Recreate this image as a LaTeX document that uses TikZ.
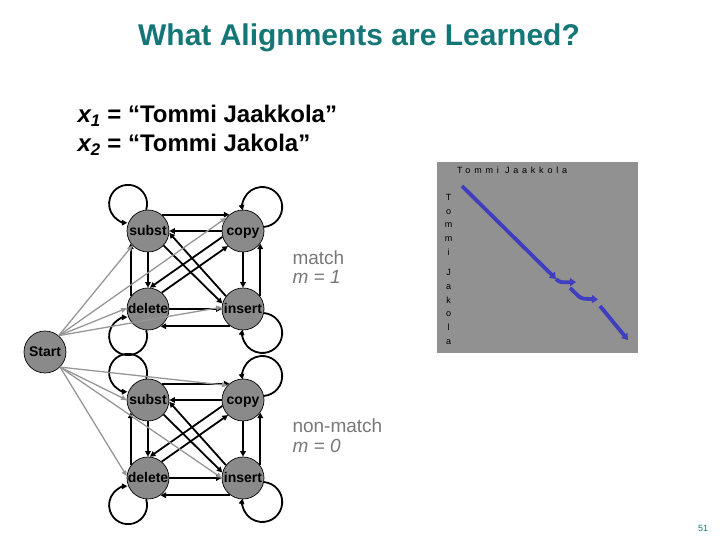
\documentclass[tikz,border=0pt]{standalone}
\usepackage{fontspec}
\setmainfont{Liberation Sans}
\usetikzlibrary{arrows.meta}
\definecolor{teal0}{RGB}{20,118,118}
\definecolor{nodegray}{RGB}{138,138,138}
\definecolor{boxgray}{RGB}{145,145,145}
\definecolor{edgegray}{RGB}{150,150,150}
\definecolor{txtgray}{RGB}{120,120,120}
\definecolor{alignblue}{RGB}{62,62,190}
\begin{document}
\begin{tikzpicture}[x=1pt,y=1pt,
  state/.style={circle, draw=black, line width=0.7pt, fill=nodegray, minimum size=42pt, inner sep=0pt, text height=10pt, text depth=0pt, font=\fontsize{14}{15}\selectfont\bfseries},
  tr/.style={line width=1.8pt, -{Triangle[length=5.5pt,width=5.5pt]}},
  st/.style={draw=edgegray, line width=1.3pt, -{Triangle[length=5.5pt,width=5pt]}},
  al/.style={draw=alignblue, line width=3.8pt, -{Triangle[length=6pt,width=8pt]}},
  lbl/.style={anchor=base west, text=txtgray, font=\fontsize{19}{22}\selectfont},
]
\useasboundingbox (0,0) rectangle (720,540);

% title and text
\node[font=\fontsize{30}{36}\selectfont\bfseries, text=teal0] (title) at (359,502) {What Alignments are Learned?};
\node[anchor=base west, font=\fontsize{24}{28}\selectfont\bfseries] (x1) at (74,417) {\itshape x\textsubscript{1}\upshape{} = “Tommi Jaakkola”};
\node[anchor=base west, font=\fontsize{24}{28}\selectfont\bfseries] (x2) at (74,388) {\itshape x\textsubscript{2}\upshape{} = “Tommi Jakola”};
\node[lbl] (m1a) at (289,275) {match};
\node[lbl] (m1b) at (289,256) {\itshape m = 1};
\node[lbl] (m0a) at (289,107) {non-match};
\node[lbl] (m0b) at (289,87) {\itshape m = 0};
\node[text=teal0, font=\fontsize{9}{10}\selectfont] (pg) at (703,12) {51};

% alignment matrix
\fill[boxgray] (437,187) rectangle (638,378);
\node[anchor=base west, inner sep=0pt, font=\fontsize{9}{10}\selectfont\addfontfeature{LetterSpace=42}] (toph) at (457,366) {Tommi Jaakkola};
\node[anchor=north, inner sep=0pt, align=center, font=\fontsize{9}{13.7}\selectfont] (leftv) at (448.5,346) {T\\o\\m\\m\\i\\[7pt]J\\a\\k\\o\\l\\a};
\draw[al] (462,354) -- (556,261);
\draw[al] (556,261) .. controls (560,257.5) .. (576,258);
\draw[al, rounded corners=3pt] (570,252) -- (581,241.5) -- (598,240.5);
\draw[al] (600,234) -- (628,200);

% start node
\node[state] (Start) at (45,188) {Start};

\foreach \p/\yo in {t/0, b/-169} {
  \node[state] (\p S) at (148,{309+\yo}) {subst};
  \node[state] (\p C) at (243,{309+\yo}) {copy};
  \node[state] (\p D) at (148,{231+\yo}) {delete};
  \node[state] (\p I) at (243,{231+\yo}) {insert};
  % self loops
  \draw[tr] (\p S.95) arc[start angle=-18, end angle=268, radius=19pt];
  \draw[tr] (\p C.11) arc[start angle=-85, end angle=190, radius=20pt];
  \draw[tr] (\p D.265) arc[start angle=18, end angle=-268, radius=19pt];
  \draw[tr] (\p I.-11) arc[start angle=85, end angle=-190, radius=20pt];
  % transitions
  \draw[tr] (\p S.50) -- (\p C.130);
  \draw[tr] (\p C.180) -- (\p S.0);
  \draw[tr] (\p S.270) -- (\p D.90);
  \draw[tr] (\p D.144) -- (\p S.216);
  \draw[tr] (\p C.270) -- (\p I.90);
  \draw[tr] (\p I.36) -- (\p C.324);
  \draw[tr] (\p D.0) -- (\p I.180);
  \draw[tr] (\p I.234) -- (\p D.306);
  \draw[tr] (\p S.317) -- (\p I.165);
  \draw[tr] (\p I.143) -- (\p S.355);
  \draw[tr] (\p D.50) -- (\p C.225);
  \draw[tr] (\p C.196) -- (\p D.85);
}

% start transitions
\draw[st] (Start.50) -- (tS.223);
\draw[st] (Start.50) -- (tC.142);
\draw[st] (Start.50) -- (tD.178);
\draw[st] (Start.50) -- (tI.175);
\draw[st] (Start.-45) -- (bS.180);
\draw[st] (Start.-45) -- (bC.137);
\draw[st] (Start.-45) -- (bD.175);
\draw[st] (Start.-45) -- (bI.180);
\end{tikzpicture}
\end{document}
